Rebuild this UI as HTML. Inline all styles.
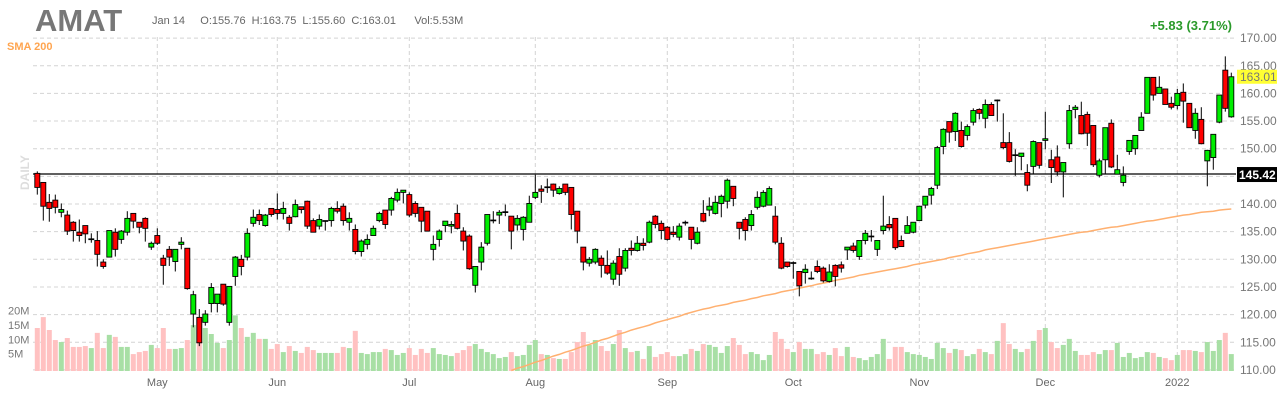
<!DOCTYPE html>
<html><head><meta charset="utf-8"><style>
body{margin:0;background:#fff;width:1280px;height:400px;overflow:hidden;font-family:"Liberation Sans",sans-serif}
svg text{font-family:"Liberation Sans",sans-serif}
</style></head><body>
<svg id="chart" width="1280" height="400" viewBox="0 0 1280 400" xmlns="http://www.w3.org/2000/svg">
<text x="35" y="31" font-size="31" font-weight="bold" fill="#777">AMAT</text>
<text x="152" y="24" font-size="11" fill="#666" xml:space="preserve">Jan 14     O:155.76  H:163.75  L:155.60  C:163.01      Vol:5.53M</text>
<text x="1232" y="30" font-size="13" font-weight="bold" fill="#2a9a2a" text-anchor="end">+5.83 (3.71%)</text>
<text x="7" y="50" font-size="11" font-weight="bold" fill="#ffa550">SMA 200</text>
<text x="0" y="0" font-size="12" font-weight="bold" fill="#ddd" transform="translate(29,190) rotate(-90)">DAILY</text>
<g id="grid"></g><g id="vol"></g><g id="sma"></g><g id="candles"></g><g id="axes"></g>
</svg>
<script>
const months=["May","Jun","Jul","Aug","Sep","Oct","Nov","Dec","2022"];
const monthIdx=[20,40,62,83,105,126,147,168,190];
const priceTicks=[110,115,120,125,130,135,140,145,150,155,160,165,170];
const volTicks=["20M","15M","10M","5M"];
const volTickVals=[20,15,10,5];
const opens=[145.54,143.9,140.3,140.7,138.5,138.0,136.7,134.9,136.1,133.7,133.4,129.5,130.4,134.9,133.6,134.9,138.3,136.7,137.4,132.2,134.3,130.2,131.8,129.6,132.7,132.0,120.1,119.5,118.6,122.0,122.0,125.5,118.6,126.9,130.0,130.4,136.5,138.1,136.1,139.2,139.0,138.3,137.6,137.7,139.5,140.5,137.0,136.0,137.0,137.0,139.2,139.6,136.7,135.4,131.4,132.7,134.3,137.0,138.9,138.9,140.7,142.1,141.7,140.1,139.4,138.7,131.8,133.6,136.1,136.0,138.3,135.1,134.2,125.3,129.5,132.9,137.1,138.0,138.6,137.8,136.2,135.4,136.7,141.2,142.7,143.1,143.6,141.9,143.6,143.0,138.7,132.2,129.3,129.5,130.2,128.9,126.4,130.5,128.4,132.0,131.6,132.9,133.1,137.8,136.5,135.8,134.9,134.0,136.7,135.8,132.9,138.3,138.9,138.3,140.1,140.5,143.2,136.7,137.2,136.1,139.4,139.6,139.8,137.8,132.9,129.5,129.4,127.8,127.6,126.6,128.7,128.4,126.0,128.9,129.0,131.7,132.4,130.5,133.4,134.2,131.8,135.2,136.3,137.4,133.4,134.7,134.9,137.0,139.8,141.6,143.4,150.4,154.9,153.1,153.3,152.4,154.8,157.1,155.5,158.0,158.8,151.1,151.1,148.9,148.6,145.7,146.8,151.1,151.5,148.0,148.5,145.8,150.9,157.1,156.0,156.2,154.2,145.2,148.0,154.6,145.4,143.9,149.5,150.0,153.3,156.4,162.9,160.0,160.8,158.2,157.8,160.2,158.2,153.3,155.3,147.8,148.4,154.8,164.2,155.76];
const highs=[145.9,143.9,141.8,141.7,140.1,138.8,136.9,137.2,136.1,134.7,135.1,130.0,135.2,135.6,135.3,138.7,138.3,136.7,137.6,133.2,135.6,130.8,132.4,131.8,134.0,132.0,124.3,121.0,120.8,125.7,123.7,125.5,125.1,130.6,130.8,135.6,139.0,139.0,138.2,139.2,141.9,140.4,138.0,140.8,139.5,140.6,137.4,138.1,137.0,139.5,140.5,140.1,138.5,136.3,133.6,134.5,136.1,138.6,138.9,141.3,142.8,142.5,142.1,140.5,139.4,138.7,134.3,135.4,136.9,136.9,139.9,135.8,134.5,128.7,133.1,138.1,138.7,138.9,139.9,137.8,138.0,137.8,141.5,145.3,143.4,144.6,143.7,143.2,143.6,143.0,138.7,132.2,130.4,132.0,130.7,131.6,129.8,132.0,132.0,133.4,134.2,133.8,137.0,138.0,137.0,136.0,136.0,136.5,137.0,135.8,135.8,140.7,141.2,141.5,141.7,144.6,143.2,136.7,137.6,138.9,142.3,142.5,143.2,139.6,134.0,129.5,129.6,127.8,129.1,127.8,129.8,128.7,129.1,129.1,129.6,132.2,133.0,133.4,135.3,135.3,133.4,141.5,137.8,137.4,134.3,137.8,136.7,139.6,141.4,143.1,150.5,153.7,154.9,156.6,154.9,154.4,157.3,157.3,158.9,158.4,158.9,156.4,153.0,149.9,149.2,147.2,151.5,151.1,156.7,149.8,150.6,147.5,157.9,157.9,158.5,156.7,154.2,148.2,153.8,155.3,148.9,146.8,151.5,152.4,156.6,162.9,162.9,163.1,160.8,159.4,160.8,161.8,158.2,157.3,157.5,149.8,152.6,159.7,166.7,163.75];
const lows=[141.7,137.0,136.8,138.3,137.6,134.4,133.2,133.2,132.9,133.0,128.7,128.3,130.4,130.5,132.8,134.3,135.6,134.7,133.2,131.7,132.6,125.4,128.8,127.8,131.8,124.5,117.7,114.3,118.0,120.4,120.4,121.6,118.0,125.2,127.1,129.8,135.9,136.2,135.9,137.7,137.2,137.2,135.2,137.6,138.3,135.5,134.9,135.4,135.2,135.9,138.3,136.1,135.2,130.9,130.5,131.8,134.3,136.7,135.5,137.9,140.3,140.1,137.6,137.6,134.9,135.1,129.8,132.3,134.9,134.7,135.4,131.6,128.1,124.0,128.0,132.5,136.5,136.4,137.8,131.8,135.2,133.4,136.7,140.9,140.2,142.0,141.3,141.7,141.6,135.4,132.9,128.0,128.7,129.1,126.7,127.2,125.4,125.2,127.8,130.7,131.4,131.6,132.9,135.6,133.6,133.4,134.0,133.4,136.1,131.8,132.7,136.7,137.8,138.1,137.6,139.2,139.6,133.6,133.4,135.2,139.0,139.4,139.8,132.7,128.2,128.5,126.5,123.3,125.6,126.3,127.5,125.8,125.8,125.1,127.6,129.9,131.2,129.9,132.7,133.2,130.6,134.5,135.2,131.7,132.3,134.7,134.7,137.0,139.2,139.9,142.7,149.0,151.1,151.4,150.2,151.5,154.2,155.3,153.7,156.0,154.9,149.9,147.5,145.1,146.1,142.3,145.4,146.4,149.9,143.8,145.1,141.2,150.0,155.5,152.6,150.5,146.7,144.8,145.4,146.5,145.4,143.2,148.9,148.9,153.3,156.4,158.7,160.0,158.0,157.1,157.1,154.7,153.8,151.8,150.8,143.2,146.2,154.6,156.7,155.6];
const closes=[143.0,139.6,139.2,139.4,139.0,135.1,135.2,134.3,134.6,133.7,130.9,128.7,135.2,131.8,135.1,137.4,136.9,135.8,135.6,132.9,132.9,128.9,130.4,131.8,133.1,124.7,123.6,114.9,120.1,124.9,123.7,121.9,125.1,130.4,128.7,134.7,137.6,137.0,138.0,138.1,138.3,139.2,136.5,139.9,139.0,136.0,134.9,137.2,137.0,139.2,138.7,137.0,137.4,131.4,133.3,133.6,135.6,138.3,136.3,141.0,142.1,142.5,138.0,138.3,136.9,135.1,132.7,135.1,136.9,136.3,135.6,133.3,128.3,128.7,132.2,138.1,137.1,138.5,138.6,135.1,137.4,137.6,140.1,142.1,142.3,143.1,142.5,142.8,142.1,138.1,135.1,129.5,130.0,131.8,128.9,127.5,129.3,127.3,131.6,131.6,132.9,132.5,136.7,136.3,135.2,133.6,134.5,136.0,136.7,133.6,134.9,136.9,139.6,140.3,141.4,144.3,141.0,135.6,135.2,138.1,141.2,142.1,142.8,133.1,128.4,128.7,129.4,125.2,128.2,126.6,127.8,126.1,127.7,126.9,128.4,132.2,131.6,133.4,134.7,134.2,133.4,136.0,135.7,132.1,132.3,136.1,136.7,139.6,141.4,142.8,150.2,153.5,153.0,156.4,150.4,154.0,156.9,156.4,158.0,156.0,158.8,150.2,147.7,148.9,149.2,143.4,151.3,147.0,151.8,146.6,145.8,147.5,156.9,157.5,152.7,152.8,147.1,147.8,153.8,146.7,146.2,145.2,151.5,152.4,155.7,162.9,159.7,161.1,158.0,157.5,160.0,158.6,153.8,156.4,150.9,149.7,152.6,159.7,157.3,163.01];
const volumes=[15.0,18.8,14.3,10.8,10.1,11.5,8.4,8.4,8.7,8.0,13.3,8.0,12.6,11.9,8.4,8.4,5.9,6.6,7.0,9.1,8.0,15.0,7.7,7.7,8.0,10.8,16.0,13.3,15.0,12.9,9.8,8.0,10.8,19.4,15.0,11.9,13.3,11.2,11.2,7.7,9.4,6.6,8.7,7.0,6.3,8.4,7.3,6.3,6.3,6.3,6.3,8.4,8.0,14.0,6.3,5.9,6.6,6.6,7.7,7.3,5.6,6.3,8.0,5.6,7.7,6.3,8.0,5.9,5.6,5.2,6.3,7.3,8.7,9.4,7.7,6.6,5.9,4.5,4.9,6.6,5.2,5.6,9.1,10.8,5.9,5.6,4.5,4.2,4.2,6.6,10.1,13.6,9.1,10.8,8.7,7.0,9.4,14.3,8.0,6.6,7.0,4.2,8.7,4.9,5.9,6.6,5.2,5.2,5.9,7.7,7.0,9.4,9.1,8.4,6.3,8.7,11.5,9.1,5.9,6.6,5.9,3.8,5.6,13.6,11.2,7.7,6.6,10.1,7.7,7.7,5.9,6.6,5.6,8.0,5.2,8.4,4.9,4.5,3.8,4.9,5.9,11.2,4.2,8.4,8.4,6.6,5.9,5.6,4.9,4.2,9.8,8.0,6.3,7.7,7.3,5.2,5.9,7.7,6.6,5.9,10.5,16.7,9.4,7.7,6.6,7.7,10.5,14.3,15.0,10.1,8.0,9.1,11.2,7.0,5.6,5.6,6.6,5.9,7.3,7.3,9.8,4.9,6.3,4.5,4.9,6.6,6.3,4.9,4.5,3.8,5.6,7.3,7.3,7.0,6.6,10.1,7.0,10.8,13.3,5.9];
const smaStart=79;
const sma200=[109.9,110.3,110.6,111.0,111.4,111.7,112.1,112.5,112.8,113.2,113.5,113.9,114.3,114.6,115.0,115.4,115.7,116.1,116.5,116.8,117.2,117.5,117.8,118.1,118.5,118.8,119.1,119.4,119.7,120.1,120.4,120.7,121.0,121.2,121.5,121.7,121.9,122.2,122.4,122.6,122.9,123.1,123.4,123.6,123.8,124.1,124.3,124.5,124.8,125.0,125.2,125.5,125.7,125.9,126.2,126.4,126.6,126.8,127.1,127.3,127.5,127.7,127.9,128.1,128.3,128.5,128.7,129.0,129.2,129.4,129.6,129.8,130.0,130.3,130.5,130.7,131.0,131.2,131.4,131.7,131.9,132.1,132.3,132.5,132.7,132.9,133.1,133.3,133.5,133.7,133.9,134.1,134.3,134.5,134.7,134.9,135.0,135.2,135.4,135.6,135.8,135.9,136.1,136.3,136.5,136.7,136.9,137.0,137.2,137.4,137.6,137.8,138.0,138.1,138.3,138.5,138.6,138.7,138.9,139.0,139.1];
const refLevel=145.42;
const lastPrice=163.01;

const NS="http://www.w3.org/2000/svg";
const L=33,R=1236;
const xAt=i=>37.3+i*6;
const yP=p=>204-(p-140)*5.53;
const yV=v=>371-v*2.867;
function mk(tag,attrs,parent){const e=document.createElementNS(NS,tag);for(const k in attrs)e.setAttribute(k,attrs[k]);parent.appendChild(e);return e;}
const grid=document.getElementById('grid'),vol=document.getElementById('vol'),smaG=document.getElementById('sma'),cg=document.getElementById('candles'),axes=document.getElementById('axes');

priceTicks.forEach(p=>{
  const g=mk('line',{x1:L,x2:R,y1:yP(p),y2:yP(p),stroke:'#d4d4d4','stroke-dasharray':'4,3'},grid);
  
  
  const t=mk('text',{x:1240,y:yP(p)+4,'font-size':12,fill:'#777'},axes);
  t.textContent=p.toFixed(2);
  
  
});
months.forEach((m,k)=>{
  const x=xAt(monthIdx[k]);
  const g=mk('line',{x1:x,x2:x,y1:37,y2:371,stroke:'#d4d4d4','stroke-dasharray':'4,3'},grid);
  
  
  const t=mk('text',{x:x,y:386,'font-size':11,fill:'#666','text-anchor':'middle'},axes);
  t.textContent=m;
  
  
});
volTicks.forEach((v,k)=>{
  const t=mk('text',{x:8,y:yV(volTickVals[k])+1,'font-size':11,fill:'#777'},axes);
  t.textContent=v;
  
  
});
volumes.forEach((v,i)=>{
  const up=closes[i]>=opens[i];
  const r=mk('rect',{x:xAt(i)-2.5,y:yV(v),width:5,height:371-yV(v),fill:up?'#a8dfa5':'#ffc1c1'},vol);
  
  
});
let d='';
sma200.forEach((v,k)=>{d+=(k?'L':'M')+xAt(smaStart+k).toFixed(1)+','+yP(v).toFixed(1);});
const sl=mk('path',{d:d,fill:'none',stroke:'#ffb070','stroke-width':1.5},smaG);


const rl=mk('line',{x1:L,x2:R,y1:yP(refLevel),y2:yP(refLevel),stroke:'#000','stroke-width':1.2},smaG);


opens.forEach((o,i)=>{
  const c=closes[i],x=xAt(i);
  const w=mk('line',{x1:x,x2:x,y1:yP(highs[i]),y2:yP(lows[i]),stroke:'#000','stroke-width':1},cg);
  
  
  const top=yP(Math.max(o,c)),bot=yP(Math.min(o,c));
  const b=mk('rect',{x:x-2.5,y:top,width:5,height:Math.max(bot-top,0.8),fill:c>=o?'#00ee00':'#ff0000',stroke:'#000','stroke-width':0.9},cg);
  
  
});
const rb=mk('rect',{x:1237,y:yP(refLevel)-7,width:40,height:15,fill:'#000'},axes);


const rt=mk('text',{x:1239,y:yP(refLevel)+5,'font-size':12,'font-weight':'bold',fill:'#fff'},axes);
rt.textContent=refLevel.toFixed(2);


const lb=mk('rect',{x:1237,y:yP(lastPrice)-7,width:40,height:14,fill:'#ffff33'},axes);


const lt=mk('text',{x:1240,y:yP(lastPrice)+4,'font-size':12,fill:'#777'},axes);
lt.textContent=lastPrice.toFixed(2);


</script>
</body></html>
